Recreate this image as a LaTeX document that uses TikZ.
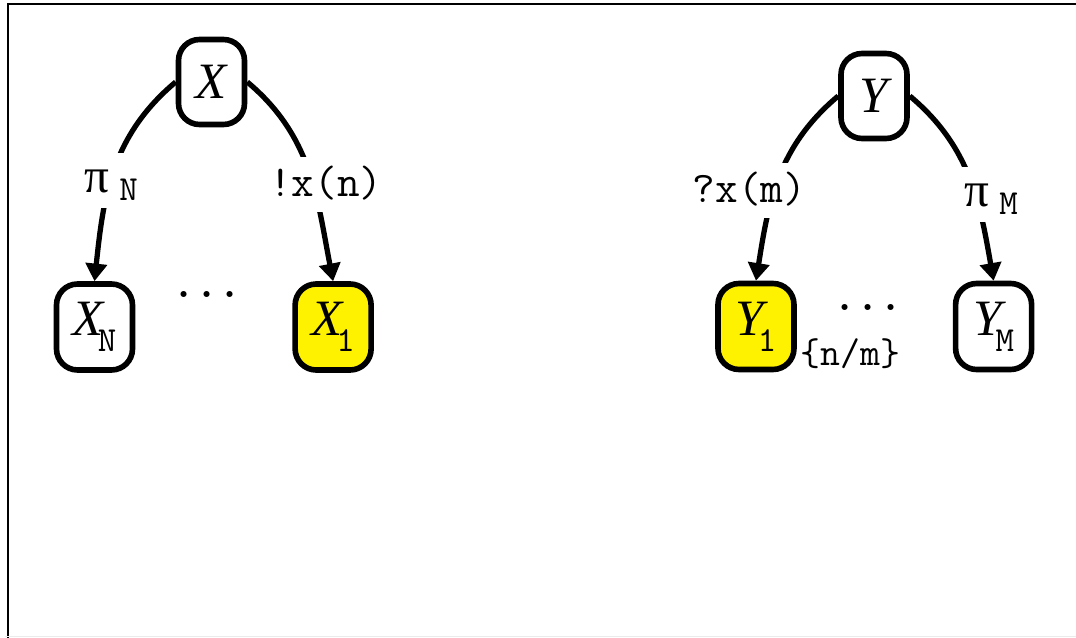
\documentclass[tikz,border=0pt]{standalone}
\usepackage{fontspec}
\setmainfont{Liberation Serif}
\usetikzlibrary{arrows.meta, positioning}
\newcommand\lblfont{\ttfamily\upshape\fontsize{12.5}{14}\selectfont}
\newcommand\subfont{\ttfamily\upshape\fontsize{10}{11}\selectfont}
\newcommand\piSym{{\rmfamily\upshape\fontsize{14}{16}\selectfont π}}
\newcommand\procSub[2]{#1\kern-0.6mm\raisebox{-1.6mm}{\subfont #2}}
\newcommand\chanSub[1]{\piSym\hspace{1mm}\raisebox{-0.8mm}{\subfont #1}}
\tikzset{
  ProcBase/.style  = {draw, rectangle, rounded corners=6pt, line width=1.6pt,
                      inner sep=0pt, font=\fontsize{14.5}{16}\selectfont\itshape},
  Proc/.style      = {ProcBase, minimum width=6.6mm, minimum height=8.5mm},
  SubProc/.style   = {ProcBase, minimum width=7.6mm, minimum height=8.6mm},
  Active/.style    = {SubProc, fill=yellow},
  Chan/.style      = {line width=1.5pt, -{Triangle[width=6pt,length=5pt]}},
  ChanLabel/.style = {fill=white, inner sep=0.75mm, text height=3.2mm,
                      text depth=0.8mm, font=\lblfont},
  Dots/.style      = {font=\lblfont\bfseries, anchor=base, inner sep=0pt},
  SetLabel/.style  = {font=\ttfamily\fontsize{11}{12}\selectfont, anchor=west,
                      inner sep=0.3mm},
  Frame/.style     = {line width=0.6pt},
}
\begin{document}
\begin{tikzpicture}
  \useasboundingbox (0,0) rectangle (10.76,-6.38);
  \draw[Frame] (0.083,-6.38) |- (10.76,-0.043);
  \draw[black!8, line width=0.4pt] (0.05,-6.365) -- (10.76,-6.365);
  \node[Proc] (X) at (2.115,-0.82) {X};
  \node[SubProc] (XN) at (0.945,-3.27) {\procSub{X}{N}};
  \node[Active, right=1.57cm of XN] (X1) {\procSub{X}{1}};
  \node[Dots] (Xdots) at (2.07,-2.97) {...};
  \node[Proc] (Y) at (8.74,-0.96) {Y};
  \node[Active] (Y1) at (7.56,-3.265) {\procSub{Y}{1}};
  \node[SubProc, right=1.56cm of Y1] (YM) {\procSub{Y}{M}};
  \node[Dots] (Ydots) at (8.68,-3.10) {...};
  \node[SetLabel] (Yset) at ([yshift=-2.7mm]Y1.east) {\{n/m\}};
  \draw[Chan] (X.west) to[out=220, in=84] node[ChanLabel, pos=0.55] {\chanSub{N}} (XN.north);
  \draw[Chan] (X.east) to[out=-40, in=101] node[ChanLabel, pos=0.57, xshift=1.3mm] {!x(n)} (X1.north);
  \draw[Chan] (Y.west) to[out=220, in=81] node[ChanLabel, pos=0.57, xshift=-2.5mm] {?x(m)} (Y1.north);
  \draw[Chan] (Y.east) to[out=-40, in=100] node[ChanLabel, pos=0.59, xshift=1.6mm] {\chanSub{M}} (YM.north);
\end{tikzpicture}
\end{document}
